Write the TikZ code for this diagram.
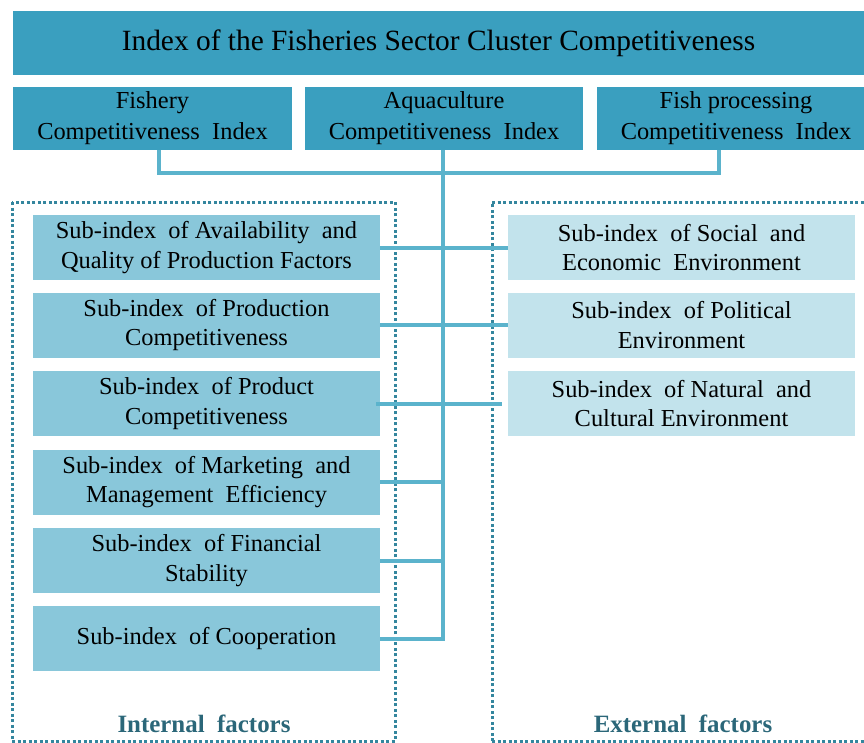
\documentclass[tikz,border=0pt]{standalone}
\usepackage{fontspec}
\setmainfont{Liberation Serif}
\usepackage{xcolor}
\usepackage{tikz}
\usetikzlibrary{positioning,calc}

\definecolor{headblue}{HTML}{3A9FBF}
\definecolor{subblue}{HTML}{89C7DA}
\definecolor{extblue}{HTML}{C2E3EC}
\definecolor{linkblue}{HTML}{5BB3CC}
\definecolor{frameblue}{HTML}{34869E}
\definecolor{labelblue}{HTML}{2B6779}

\tikzset{
    headbox/.style = {fill=headblue, inner sep=0pt, minimum height=63bp, align=center,
        font=\fontsize{24.5}{31}\selectfont},
    intbox/.style = {fill=subblue, inner sep=0pt, minimum width=347bp, minimum height=65bp,
        align=center, font=\fontsize{24.5}{30}\selectfont},
    extbox/.style = {intbox, fill=extblue},
    link/.style = {draw=linkblue, line width=4bp},
    frame/.style = {draw=frameblue, line width=3bp, dash pattern=on 3bp off 2.5bp},
    factor/.style = {text=labelblue, font=\fontsize{25}{28}\selectfont\bfseries}
}

\begin{document}
\begin{tikzpicture}[x=1bp, y=-1bp]
        \useasboundingbox (0, 0) rectangle (864, 743);

        % Rahmen
        \draw[frame] (12, 202) rectangle (395, 741);
        \draw[frame] (492, 741) -- (492, 202) -- (870, 202);
        \draw[frame] (492, 741) -- (870, 741);

        % Kopf
        \node[headbox, minimum width=851bp, minimum height=64bp, font=\fontsize{29.5}{33}\selectfont] (index) at (438.5, 43) {Index of the Fisheries Sector Cluster Competitiveness};
        \node[headbox, minimum width=279bp] (fishery) at (152.5, 118.5) {Fishery\\Competitiveness\ \ Index};
        \node[headbox, minimum width=278bp] (aqua) at (444, 118.5) {Aquaculture\\Competitiveness\ \ Index};
        \node[headbox, minimum width=278bp] (fishproc) at (736, 118.5) {Fish processing\\Competitiveness\ \ Index};

        % Interne Faktoren
        \node[intbox] (avail) at (206.5, 247.5) {Sub-index\ \ of Availability\ \ and\\Quality of Production Factors};
        \node[intbox] (prod) at (206.5, 325) {Sub-index\ \ of Production\\Competitiveness};
        \node[intbox] (product) at (206.5, 403.5) {Sub-index\ \ of Product\\Competitiveness};
        \node[intbox] (market) at (206.5, 482) {Sub-index\ \ of Marketing\ \ and\\Management\ \ Efficiency};
        \node[intbox] (finance) at (206.5, 560.5) {Sub-index\ \ of Financial\\Stability};
        \node[intbox] (coop) at (206.5, 638) {Sub-index\ \ of Cooperation};

        % Externe Faktoren
        \node[extbox] (social) at (681.5, 247.5) {Sub-index\ \ of Social\ \ and\\Economic\ \ Environment};
        \node[extbox] (polit) at (681.5, 325) {Sub-index\ \ of Political\\Environment};
        \node[extbox] (nature) at (681.5, 403.5) {Sub-index\ \ of Natural\ \ and\\Cultural Environment};

        % Verbindungen
        \coordinate (hub) at (443, 173);
        \coordinate (bottom) at (443, 639);
        \draw[link] ([xshift=6bp]fishery.south) |- (hub) -| ([xshift=-17bp]fishproc.south);
        \draw[link] (aqua.south -| hub) -- (bottom) -- (coop.east |- bottom);
        \draw[link] (avail.east) -- (social.west);
        \draw[link] (prod.east) -- (polit.west);
        \draw[link] ([xshift=-4bp]product.east) -- ([xshift=-6bp]nature.west);
        \draw[link] (market.east) -- (market.east -| hub);
        \draw[link] (finance.east) -- (finance.east -| hub);

        % Beschriftungen
        \node[factor] (internal) at (204, 724) {Internal\ \ factors};
        \node[factor] (external) at (683, 724) {External\ \ factors};

    \end{tikzpicture}
\end{document}
